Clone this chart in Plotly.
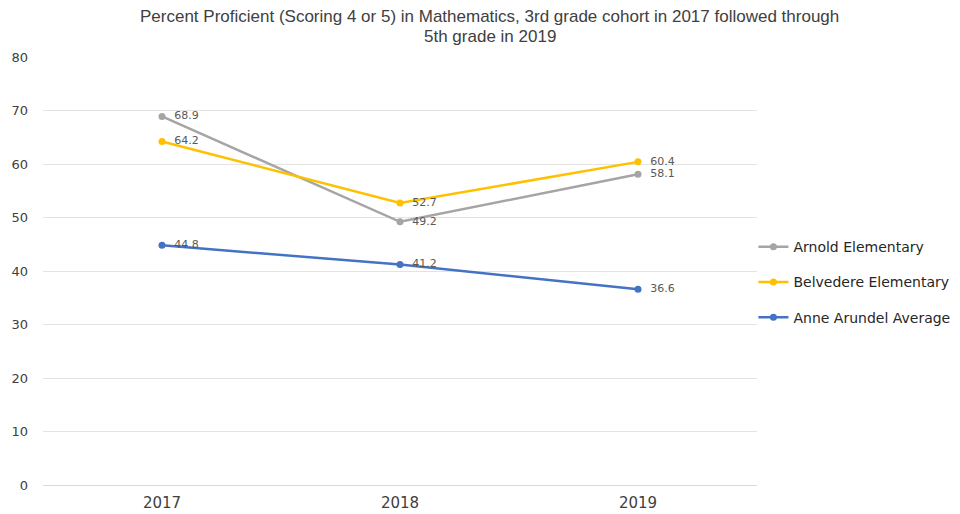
import plotly.graph_objects as go

YEARS = ["2017", "2018", "2019"]
ARNOLD = [68.9, 49.2, 58.1]
BELVEDERE = [64.2, 52.7, 60.4]
AA_AVG = [44.8, 41.2, 36.6]

TITLE_1 = "Percent Proficient (Scoring 4 or 5) in Mathematics, 3rd grade cohort in 2017 followed through"
TITLE_2 = "5th grade in 2019"

SERIES = [
    ("Arnold Elementary", ARNOLD, "#A5A5A5"),
    ("Belvedere Elementary", BELVEDERE, "#FFC000"),
    ("Anne Arundel Average", AA_AVG, "#4472C4"),
]

fig = go.Figure()
for i, (name, vals, color) in enumerate(SERIES):
    fig.add_trace(go.Scatter(
        x=YEARS, y=vals, name=name, mode="lines+markers+text",
        line=dict(color=color, width=2.5),
        marker=dict(color=color, size=7),
        text=["  %.1f" % v for v in vals], textposition="middle right",
        textfont=dict(color="#595959", size=11, family="DejaVu Sans"),
        legendgroup=f"g{i}",
    ))

# page body has an 8px margin, so the figure is 952x506 and margins are shifted
title_font = dict(family="Liberation Sans", size=17, color="#404040")
fig.add_annotation(text=TITLE_1, xref="paper", yref="paper", x=0.626, y=1.0935,
                   xanchor="center", yanchor="middle", showarrow=False, font=title_font)
fig.add_annotation(text=TITLE_2, xref="paper", yref="paper", x=0.626, y=1.048,
                   xanchor="center", yanchor="middle", showarrow=False, font=title_font)

fig.update_layout(
    width=952, height=506,
    paper_bgcolor="white", plot_bgcolor="white",
    margin=dict(l=35, r=203, t=49, b=29, autoexpand=False),
    font=dict(family="DejaVu Sans", color="#404040"),
    legend=dict(
        x=0.995, xanchor="left", y=0.474, yanchor="middle",
        font=dict(size=14, color="#262626"), tracegroupgap=14,
        bgcolor="rgba(0,0,0,0)",
    ),
)
fig.update_xaxes(
    type="category", range=[-0.5, 2.5], showgrid=False,
    showline=True, linecolor="#D9D9D9", ticks="",
    tickfont=dict(size=15, color="#404040"), automargin=False,
    ticklabelstandoff=4,
)
fig.update_yaxes(
    range=[0, 80], dtick=10, gridcolor="#E3E3E3", zeroline=False,
    showline=False, ticks="", tickfont=dict(size=13, color="#404040"),
    ticklabelstandoff=14, automargin=False,
)

fig.write_html("out.html")
